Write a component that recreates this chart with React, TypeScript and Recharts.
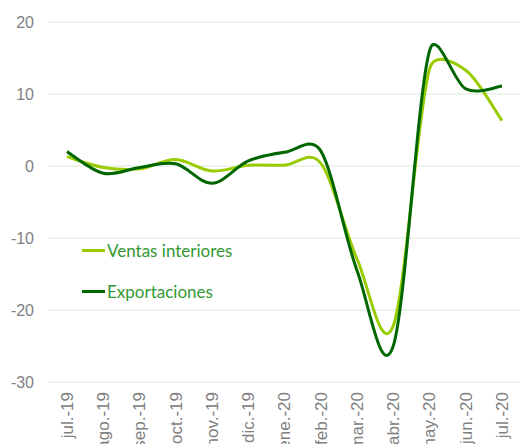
import React from "react";
import { CartesianGrid, Legend, Line, LineChart, XAxis, YAxis } from "recharts";

const months = [
  "jul.-19", "ago.-19", "sep.-19", "oct.-19", "nov.-19", "dic.-19", "ene.-20",
  "feb.-20", "mar.-20", "abr.-20", "may.-20", "jun.-20", "jul.-20",
];
const ventasInteriores = [1.3, -0.2, -0.4, 0.9, -0.7, 0.1, 0.1, 0.4, -12.9, -22.2, 13.5, 13.3, 6.3];
const exportaciones = [2.0, -1.0, -0.2, 0.3, -2.4, 0.7, 1.9, 2.1, -14.5, -25.0, 16.0, 10.7, 11.1];
const yTicks = [-30, -20, -10, 0, 10, 20];

const data = months.map((m, i) => ({
  month: m,
  ventas: ventasInteriores[i],
  export: exportaciones[i],
}));

const AXIS_FONT = "'Liberation Sans', Arial, sans-serif";

// spreadsheet-style smoothing: cardinal spline with control arms capped at half a segment
const smoothCurve = (context: any) => {
  let pts: number[][] = [];
  return {
    areaStart() {},
    areaEnd() {},
    lineStart() {
      pts = [];
    },
    point(x: number, y: number) {
      pts.push([+x, +y]);
    },
    lineEnd() {
      if (!pts.length) return;
      context.moveTo(pts[0][0], pts[0][1]);
      for (let i = 0; i < pts.length - 1; i++) {
        const p0 = pts[Math.max(i - 1, 0)];
        const p1 = pts[i];
        const p2 = pts[i + 1];
        const p3 = pts[Math.min(i + 2, pts.length - 1)];
        const seg = Math.hypot(p2[0] - p1[0], p2[1] - p1[1]);
        const arm = (a: number[], b: number[]) => {
          let dx = (b[0] - a[0]) / 6;
          let dy = (b[1] - a[1]) / 6;
          const len = Math.hypot(dx, dy);
          if (len > seg / 2 && len > 0) {
            dx *= seg / 2 / len;
            dy *= seg / 2 / len;
          }
          return [dx, dy];
        };
        const a1 = arm(p0, p2);
        const a2 = arm(p1, p3);
        context.bezierCurveTo(
          p1[0] + a1[0], p1[1] + a1[1],
          p2[0] - a2[0], p2[1] - a2[1],
          p2[0], p2[1],
        );
      }
    },
  };
};

function MonthTick(props: any) {
  const { x, y, payload } = props;
  return (
    <text
      x={x}
      y={y}
      transform={`rotate(-90, ${x}, ${y})`}
      textAnchor="end"
      dy="0.35em"
      fill="#808080"
      fontSize={17}
      fontFamily={AXIS_FONT}
    >
      {payload.value}
    </text>
  );
}

const legendItems = [
  { label: "Ventas interiores", color: "#99cc00" },
  { label: "Exportaciones", color: "#006600" },
];

function LegendBox() {
  return (
    <div style={{ fontFamily: "Lato, sans-serif", fontSize: 17, color: "#339933" }}>
      {legendItems.map((item) => (
        <div key={item.label} style={{ display: "flex", alignItems: "center", height: 41 }}>
          <span style={{ display: "inline-block", width: 23, height: 3, background: item.color, marginRight: 2 }} />
          <span>{item.label}</span>
        </div>
      ))}
    </div>
  );
}

export default function App() {
  return (
    <div style={{ position: "absolute", left: 0, top: 0, width: 520, height: 444, overflow: "hidden", background: "#fff" }}>
      <LineChart width={520} height={460} data={data} margin={{ top: 22, right: 0, bottom: 0, left: 0 }}>
        <CartesianGrid vertical={false} stroke="#dce8d9" />
        <XAxis
          dataKey="month"
          axisLine={false}
          tickLine={false}
          tickSize={0}
          tickMargin={10}
          height={78}
          interval={0}
          padding={{ left: 18, right: 18 }}
          tick={<MonthTick />}
        />
        <YAxis
          domain={[-30, 20]}
          ticks={yTicks}
          axisLine={false}
          tickLine={false}
          tickSize={0}
          tickMargin={15}
          width={49}
          tick={{ fill: "#808080", fontSize: 16, fontFamily: AXIS_FONT }}
        />
        <Legend
          layout="vertical"
          align="center"
          verticalAlign="middle"
          content={() => <LegendBox />}
          wrapperStyle={{ left: 82, top: 230, width: 200 }}
        />
        <Line
          dataKey="ventas"
          name="Ventas interiores"
          type={smoothCurve as any}
          stroke="#99cc00"
          strokeWidth={3}
          dot={false}
          isAnimationActive={false}
        />
        <Line
          dataKey="export"
          name="Exportaciones"
          type={smoothCurve as any}
          stroke="#006600"
          strokeWidth={3}
          dot={false}
          isAnimationActive={false}
        />
      </LineChart>
    </div>
  );
}
